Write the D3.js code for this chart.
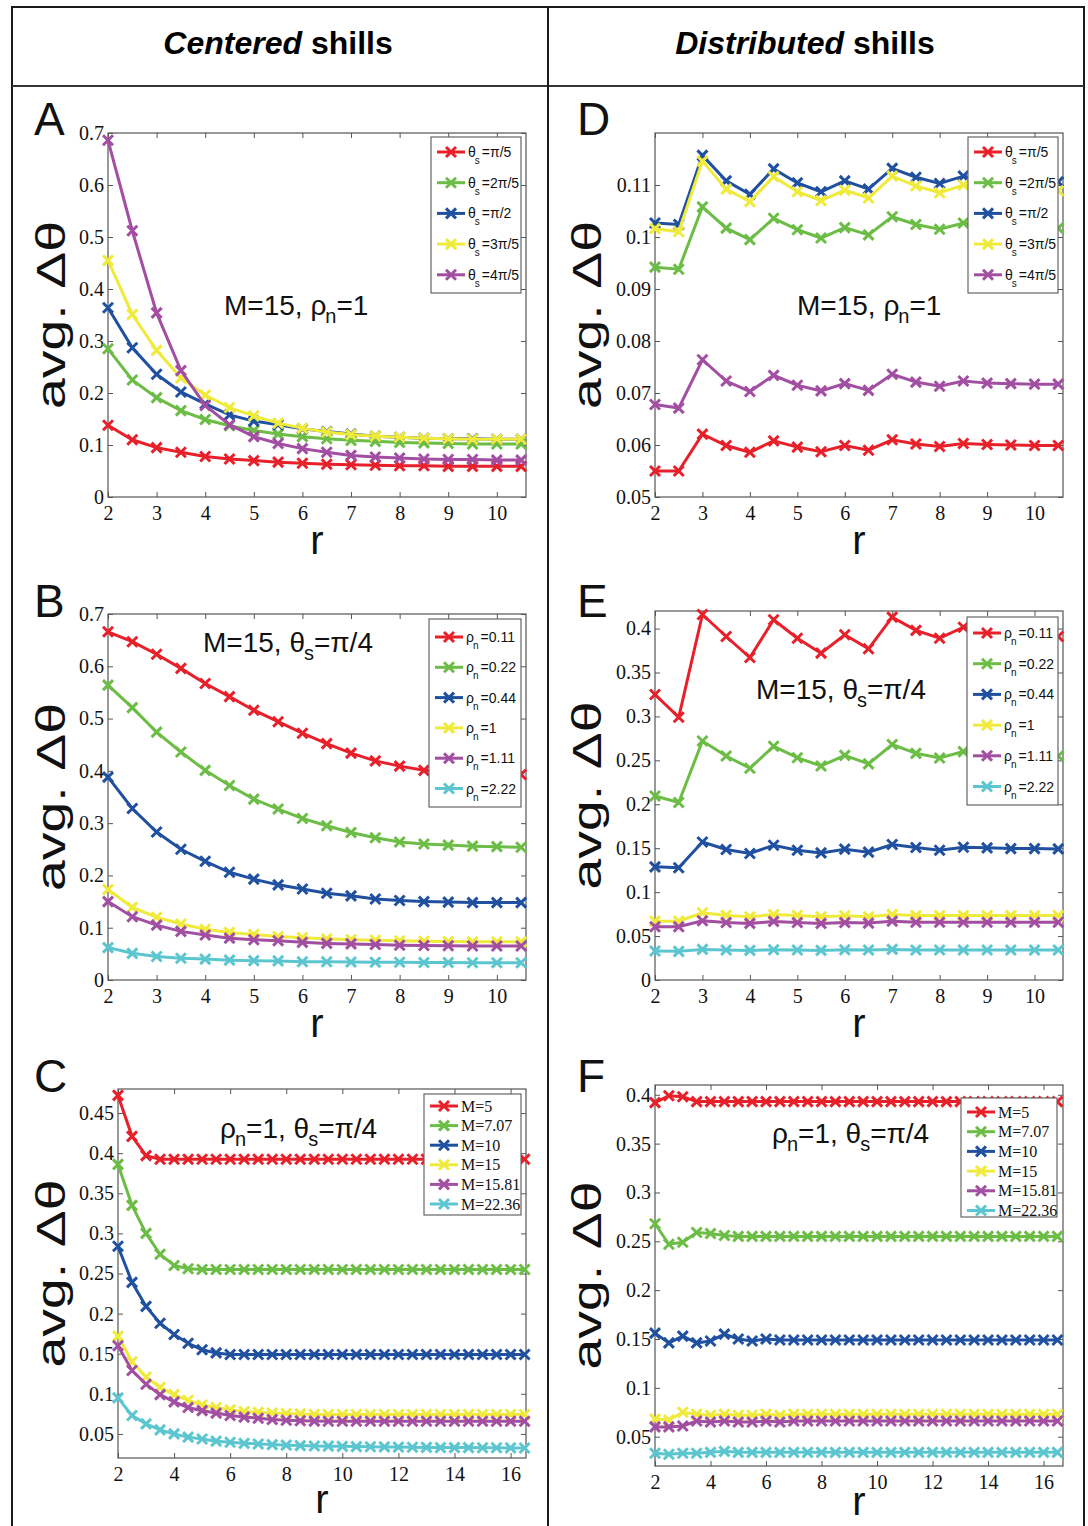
<!DOCTYPE html>
<html><head><meta charset="utf-8">
<script src="https://cdn.jsdelivr.net/npm/d3@7"></script>
<style>body{margin:0;background:#fff}</style>
</head><body>
<svg id="chart" width="1088" height="1526" xmlns="http://www.w3.org/2000/svg"></svg>
<script>
// ---------- DATA ----------
const rShort = [2,2.5,3,3.5,4,4.5,5,5.5,6,6.5,7,7.5,8,8.5,9,9.5,10,10.5];
const rLong = [2,2.5,3,3.5,4,4.5,5,5.5,6,6.5,7,7.5,8,8.5,9,9.5,10,10.5,11,11.5,12,12.5,13,13.5,14,14.5,15,15.5,16,16.5];

const thetaLabels = ["π/5","2π/5","π/2","3π/5","4π/5"];
const rhoLabels = ["0.11","0.22","0.44","1","1.11","2.22"];
const mLabels = ["M=5","M=7.07","M=10","M=15","M=15.81","M=22.36"];

// Panel A (centered, varying theta_s)
const aRed    = [0.138,0.110,0.095,0.086,0.078,0.073,0.070,0.067,0.065,0.063,0.062,0.061,0.060,0.060,0.059,0.059,0.059,0.059];
const aGreen  = [0.285,0.225,0.191,0.166,0.149,0.137,0.128,0.121,0.116,0.112,0.109,0.107,0.105,0.104,0.103,0.102,0.102,0.102];
const aBlue   = [0.364,0.287,0.236,0.202,0.179,0.158,0.146,0.139,0.131,0.126,0.121,0.117,0.115,0.113,0.112,0.112,0.111,0.111];
const aYellow = [0.455,0.351,0.282,0.229,0.196,0.172,0.156,0.142,0.132,0.125,0.120,0.117,0.115,0.113,0.112,0.111,0.111,0.111];
const aPurple = [0.686,0.512,0.354,0.243,0.176,0.139,0.116,0.103,0.093,0.086,0.080,0.077,0.075,0.073,0.072,0.072,0.071,0.071];

// Panel D (distributed, varying theta_s)
const dRed    = [0.0550,0.0550,0.0621,0.0599,0.0586,0.0608,0.0596,0.0587,0.0599,0.0590,0.0610,0.0602,0.0597,0.0603,0.0601,0.0600,0.0599,0.0599];
const dGreen  = [0.0942,0.0938,0.1058,0.1017,0.0995,0.1036,0.1014,0.0998,0.1018,0.1004,0.1039,0.1024,0.1015,0.1027,0.1020,0.1018,0.1017,0.1017];
const dBlue   = [0.1027,0.1024,0.1157,0.1108,0.1082,0.1131,0.1104,0.1087,0.1108,0.1092,0.1132,0.1115,0.1103,0.1117,0.1110,0.1108,0.1107,0.1106];
const dYellow = [0.1016,0.1010,0.1146,0.1092,0.1068,0.1116,0.1087,0.1070,0.1090,0.1075,0.1117,0.1098,0.1085,0.1100,0.1093,0.1091,0.1090,0.1089];
const dPurple = [0.0678,0.0671,0.0764,0.0723,0.0703,0.0734,0.0715,0.0704,0.0718,0.0705,0.0736,0.0721,0.0713,0.0723,0.0719,0.0718,0.0717,0.0717];

// Panel B (centered, varying rho_n)
const bRed    = [0.666,0.647,0.623,0.596,0.567,0.542,0.516,0.494,0.472,0.452,0.434,0.419,0.409,0.401,0.398,0.396,0.395,0.393];
const bGreen  = [0.564,0.521,0.474,0.436,0.401,0.372,0.346,0.327,0.309,0.295,0.282,0.272,0.264,0.260,0.258,0.256,0.255,0.254];
const bBlue   = [0.388,0.328,0.283,0.250,0.227,0.206,0.193,0.182,0.174,0.166,0.161,0.155,0.152,0.150,0.149,0.148,0.148,0.148];
const bYellow = [0.173,0.139,0.120,0.107,0.097,0.091,0.087,0.083,0.081,0.079,0.077,0.076,0.075,0.074,0.0735,0.073,0.073,0.073];
const bPurple = [0.150,0.121,0.105,0.093,0.086,0.080,0.077,0.075,0.072,0.070,0.069,0.068,0.0665,0.066,0.0655,0.065,0.065,0.065];
const bCyan   = [0.062,0.051,0.045,0.0415,0.040,0.038,0.037,0.0365,0.035,0.035,0.0345,0.034,0.034,0.0335,0.0335,0.033,0.033,0.033];

// Panel E (distributed, varying rho_n)
const eRed    = [0.325,0.299,0.416,0.391,0.367,0.410,0.389,0.372,0.393,0.377,0.413,0.398,0.389,0.4015,0.396,0.394,0.393,0.391];
const eGreen  = [0.2095,0.202,0.272,0.255,0.241,0.266,0.253,0.2436,0.2557,0.246,0.268,0.258,0.2527,0.260,0.257,0.256,0.2555,0.255];
const eBlue   = [0.1288,0.1277,0.157,0.1485,0.144,0.1534,0.1477,0.1447,0.1489,0.1455,0.1542,0.1508,0.1477,0.1511,0.1504,0.1496,0.1496,0.1492];
const eYellow = [0.067,0.067,0.0765,0.0735,0.072,0.0746,0.0735,0.072,0.0731,0.072,0.0746,0.0733,0.0733,0.0733,0.0733,0.0733,0.0733,0.0733];
const ePurple = [0.0606,0.0606,0.0674,0.0655,0.0644,0.0667,0.0655,0.0644,0.0655,0.0648,0.067,0.0657,0.0657,0.0657,0.0657,0.0657,0.0657,0.0657];
const eCyan   = [0.033,0.0326,0.0348,0.0341,0.0337,0.0345,0.0341,0.0337,0.0345,0.0341,0.0348,0.0341,0.0341,0.0341,0.0341,0.0341,0.0341,0.0341];

// Panel C (centered, varying M)
const cRed    = [0.472,0.421,0.397,0.3925,0.3925,0.3925,0.3925,0.3925,0.3925,0.3925,0.3925,0.3925,0.3925,0.3925,0.3925,0.3925,0.3925,0.3925,0.3925,0.3925,0.3925,0.3925,0.3925,0.3925,0.3925,0.3925,0.3925,0.3925,0.3925,0.3925];
const cGreen  = [0.386,0.335,0.300,0.274,0.260,0.256,0.255,0.255,0.255,0.255,0.255,0.255,0.255,0.255,0.255,0.255,0.255,0.255,0.255,0.255,0.255,0.255,0.255,0.255,0.255,0.255,0.255,0.255,0.255,0.255];
const cBlue   = [0.284,0.239,0.209,0.188,0.174,0.163,0.155,0.151,0.149,0.149,0.149,0.149,0.149,0.149,0.149,0.149,0.149,0.149,0.149,0.149,0.149,0.149,0.149,0.149,0.149,0.149,0.149,0.149,0.149,0.149];
const cYellow = [0.172,0.140,0.121,0.108,0.099,0.092,0.086,0.083,0.080,0.078,0.077,0.076,0.0755,0.075,0.0742,0.0742,0.0742,0.0742,0.0742,0.0742,0.0742,0.0742,0.0742,0.0742,0.0742,0.0742,0.0742,0.0742,0.0742,0.0742];
const cPurple = [0.160,0.129,0.112,0.099,0.090,0.083,0.079,0.076,0.073,0.071,0.0696,0.068,0.067,0.0665,0.066,0.0658,0.0658,0.0658,0.0658,0.0658,0.0658,0.0658,0.0658,0.0658,0.0658,0.0658,0.0658,0.0658,0.0658,0.0658];
const cCyan   = [0.095,0.073,0.0625,0.055,0.050,0.046,0.0437,0.041,0.0396,0.0383,0.0375,0.0367,0.036,0.0355,0.035,0.0348,0.0345,0.0342,0.034,0.0338,0.0336,0.0334,0.0332,0.033,0.033,0.033,0.0328,0.0327,0.0326,0.0325];

// Panel F (distributed, varying M)
const fRed    = [0.392,0.399,0.398,0.393,0.393,0.393,0.393,0.393,0.393,0.393,0.393,0.393,0.393,0.393,0.393,0.393,0.393,0.393,0.393,0.393,0.393,0.393,0.393,0.393,0.393,0.393,0.393,0.393,0.393,0.393];
const fGreen  = [0.268,0.247,0.249,0.259,0.258,0.256,0.255,0.255,0.255,0.255,0.255,0.255,0.255,0.255,0.255,0.255,0.255,0.255,0.255,0.255,0.255,0.255,0.255,0.255,0.255,0.255,0.255,0.255,0.255,0.255];
const fBlue   = [0.156,0.146,0.153,0.146,0.148,0.155,0.150,0.148,0.150,0.149,0.149,0.149,0.149,0.149,0.149,0.149,0.149,0.149,0.149,0.149,0.149,0.149,0.149,0.149,0.149,0.149,0.149,0.149,0.149,0.149];
const fYellow = [0.068,0.067,0.075,0.073,0.072,0.073,0.072,0.072,0.073,0.072,0.073,0.073,0.073,0.073,0.073,0.073,0.073,0.073,0.073,0.073,0.073,0.073,0.073,0.073,0.073,0.073,0.073,0.073,0.073,0.073];
const fPurple = [0.060,0.060,0.061,0.066,0.065,0.066,0.065,0.065,0.066,0.065,0.066,0.066,0.066,0.066,0.066,0.066,0.066,0.066,0.066,0.066,0.066,0.066,0.066,0.066,0.066,0.066,0.066,0.066,0.066,0.066];
const fCyan   = [0.033,0.032,0.033,0.033,0.034,0.035,0.034,0.034,0.034,0.034,0.034,0.034,0.034,0.034,0.034,0.034,0.034,0.034,0.034,0.034,0.034,0.034,0.034,0.034,0.034,0.034,0.034,0.034,0.034,0.034];

const tickX10 = [2,3,4,5,6,7,8,9,10];
const tickX16 = [2,4,6,8,10,12,14,16];
const tickY07 = [0,0.1,0.2,0.3,0.4,0.5,0.6,0.7];
const tickYD  = [0.05,0.06,0.07,0.08,0.09,0.1,0.11];
const tickYE  = [0,0.05,0.1,0.15,0.2,0.25,0.3,0.35,0.4];
const tickYC  = [0.05,0.1,0.15,0.2,0.25,0.3,0.35,0.4,0.45];
const tickYF  = [0.05,0.1,0.15,0.2,0.25,0.3,0.35,0.4];

// ---------- STYLE ----------
const COLORS = ["#e8202a","#6cbd45","#2050a0","#f0ea3a","#a24ea2","#5cc6d0"];
const SANS = "'Liberation Sans', Arial, sans-serif";
const SERIF = "'Liberation Serif', 'Times New Roman', serif";
const MARK = "M-5,-5L5,5M-5,5L5,-5";

const svg = d3.select("#chart");

svg.append("rect").attr("x",12).attr("y",7).attr("width",1072).attr("height",1540)
  .attr("fill","none").attr("stroke","#1a1a1a").attr("stroke-width",2);
svg.append("line").attr("x1",12).attr("x2",1084).attr("y1",86).attr("y2",86).attr("stroke","#333").attr("stroke-width",2);
svg.append("line").attr("x1",548).attr("x2",548).attr("y1",7).attr("y2",1526).attr("stroke","#1a1a1a").attr("stroke-width",2);

function header(cx, it, rest){
  const t = svg.append("text").attr("x",cx).attr("y",54).attr("text-anchor","middle")
    .attr("font-family",SANS).attr("font-weight","bold").attr("font-size",32);
  t.append("tspan").attr("font-style","italic").text(it);
  t.append("tspan").text(rest);
}
header(278,"Centered"," shills");
header(805,"Distributed"," shills");

const fmt = d => String(+d.toFixed(2));

function drawPanel(p){
  const g = svg.append("g");
  const x = d3.scaleLinear().domain(p.xDomain).range([p.left,p.right]);
  const y = d3.scaleLinear().domain(p.yDomain).range([p.bottom,p.top]);

  const styleAxis = sel => {
    sel.select(".domain").remove();
    sel.selectAll(".tick line").attr("stroke","#555").attr("stroke-width",1);
    sel.selectAll(".tick text").attr("font-family",SERIF).attr("font-size",20).attr("fill","#111");
  };
  g.append("g").attr("transform",`translate(0,${p.bottom})`)
    .call(d3.axisBottom(x).tickValues(p.xTicks).tickSize(-5).tickPadding(9).tickFormat(fmt)).call(styleAxis);
  g.append("g").attr("transform",`translate(0,${p.top})`)
    .call(d3.axisTop(x).tickValues(p.xTicks).tickSize(-5).tickFormat("")).call(styleAxis);
  g.append("g").attr("transform",`translate(${p.left},0)`)
    .call(d3.axisLeft(y).tickValues(p.yTicks).tickSize(-5).tickPadding(4).tickFormat(fmt)).call(styleAxis);
  g.append("g").attr("transform",`translate(${p.right},0)`)
    .call(d3.axisRight(y).tickValues(p.yTicks).tickSize(-5).tickFormat("")).call(styleAxis);
  g.append("rect").attr("x",p.left).attr("y",p.top).attr("width",p.right-p.left).attr("height",p.bottom-p.top)
    .attr("fill","none").attr("stroke","#555").attr("stroke-width",1.2);

  const line = d3.line().x(d=>x(d[0])).y(d=>y(d[1]));
  p.series.forEach((vals,i)=>{
    const pts = vals.map((v,j)=>[p.xs[j],v]);
    g.append("path").attr("d",line(pts)).attr("fill","none").attr("stroke",COLORS[i]).attr("stroke-width",3);
    g.selectAll(null).data(pts).enter().append("path")
      .attr("transform",d=>`translate(${x(d[0])},${y(d[1])})`)
      .attr("d",MARK).attr("stroke",COLORS[i]).attr("stroke-width",3).attr("fill","none");
  });

  const L = p.legend;
  const lg = g.append("g");
  lg.append("rect").attr("x",L.x).attr("y",L.y).attr("width",L.w).attr("height",L.h)
    .attr("fill","#fff").attr("stroke","#666").attr("stroke-width",1.2);
  p.labels.forEach((lab,i)=>{
    const yy = L.row0 + i*L.step;
    lg.append("line").attr("x1",L.x+6).attr("x2",L.x+34).attr("y1",yy).attr("y2",yy)
      .attr("stroke",COLORS[i]).attr("stroke-width",3);
    lg.append("path").attr("transform",`translate(${L.x+20},${yy})`)
      .attr("d",MARK).attr("stroke",COLORS[i]).attr("stroke-width",3);
    if(p.labelKind==="M"){
      lg.append("text").attr("x",L.x+37).attr("y",yy+5.5).attr("font-family",SERIF).attr("font-size",16)
        .attr("fill","#111").text(lab);
    } else {
      const t = lg.append("text").attr("x",L.x+37).attr("y",yy+5).attr("font-family",SANS).attr("font-size",14).attr("fill","#111");
      t.append("tspan").text(p.labelKind==="theta" ? "θ" : "ρ");
      t.append("tspan").attr("font-size",10).attr("dx",-1).attr("dy",7).text(p.labelKind==="theta" ? "s" : "n");
      t.append("tspan").attr("dx",2).attr("dy",-7).text("=" + lab);
    }
  });

  const A = p.note;
  const t = g.append("text").attr("x",A.x).attr("y",A.y).attr("font-family",SANS).attr("font-size",28).attr("fill","#111");
  A.parts.forEach(pt=>{
    const ts = t.append("tspan").text(pt.t);
    if(pt.sub){ ts.attr("font-size",20).attr("dy",8).attr("dx",pt.dx||0); }
    else if(pt.up){ ts.attr("dy",-8).attr("dx",pt.dx||0); }
  });

  g.append("text").attr("x",p.letterX).attr("y",p.top+(p.letterDy||0)).attr("font-family",SANS).attr("font-size",46)
    .attr("fill","#111").text(p.letter);

  g.append("text").attr("x",(p.left+p.right)/2).attr("y",p.bottom+(p.rDy||57)).attr("text-anchor","middle")
    .attr("font-family",SANS).attr("font-size",40).attr("fill","#111").text("r");
  g.append("text").attr("transform",`translate(${p.ylabX},${(p.top+p.bottom)/2}) rotate(-90)`)
    .attr("text-anchor","middle").attr("font-family",SANS).attr("font-size",41).attr("fill","#111")
    .attr("textLength",188).attr("lengthAdjust","spacingAndGlyphs").text("avg. Δθ");
}

const noteM15rho = [{t:"M=15, ρ"},{t:"n",sub:true,dx:-1},{t:"=1",up:true,dx:0}];
const noteM15th = [{t:"M=15, θ"},{t:"s",sub:true,dx:-1},{t:"=π/4",up:true,dx:0}];
const noteRhoTh = [{t:"ρ"},{t:"n",sub:true,dx:-1},{t:"=1, θ",up:true,dx:0},{t:"s",sub:true,dx:-1},{t:"=π/4",up:true,dx:0}];

drawPanel({letter:"A",letterX:34,letterDy:2,left:108,right:526,top:133,bottom:497,xDomain:[2,10.6],yDomain:[0,0.7],
  xTicks:tickX10,yTicks:tickY07,xs:rShort,series:[aRed,aGreen,aBlue,aYellow,aPurple],
  labels:thetaLabels,labelKind:"theta",legend:{x:431,y:137,w:90,h:156,row0:152,step:30.7},
  note:{x:224,y:315,parts:noteM15rho},ylabX:65});
drawPanel({letter:"D",letterX:577,letterDy:2,left:655,right:1063,top:133,bottom:497,xDomain:[2,10.6],yDomain:[0.05,0.12],
  xTicks:tickX10,yTicks:tickYD,xs:rShort,series:[dRed,dGreen,dBlue,dYellow,dPurple],
  labels:thetaLabels,labelKind:"theta",legend:{x:968,y:137,w:90,h:156,row0:152,step:30.7},
  note:{x:797,y:315,parts:noteM15rho},ylabX:601});
drawPanel({letter:"B",letterX:34,letterDy:3,left:108,right:526,top:614,bottom:980,xDomain:[2,10.6],yDomain:[0,0.7],
  xTicks:tickX10,yTicks:tickY07,xs:rShort,series:[bRed,bGreen,bBlue,bYellow,bPurple,bCyan],
  labels:rhoLabels,labelKind:"rho",legend:{x:429,y:619,w:92,h:188,row0:637,step:30.3},
  note:{x:203,y:652,parts:noteM15th},ylabX:65});
drawPanel({letter:"E",letterX:577,letterDy:6,left:655,right:1063,top:611,bottom:980,xDomain:[2,10.6],yDomain:[0,0.42],
  xTicks:tickX10,yTicks:tickYE,xs:rShort,series:[eRed,eGreen,eBlue,eYellow,ePurple,eCyan],
  labels:rhoLabels,labelKind:"rho",legend:{x:967,y:617,w:91,h:188,row0:633,step:30.7},
  note:{x:756,y:699,parts:noteM15th},ylabX:601});
drawPanel({letter:"C",letterX:34,letterDy:3,left:118,right:526,top:1089,bottom:1458,xDomain:[2,16.55],yDomain:[0.02,0.48],
  xTicks:tickX16,yTicks:tickYC,xs:rLong,series:[cRed,cGreen,cBlue,cYellow,cPurple,cCyan],
  labels:mLabels,labelKind:"M",legend:{x:424,y:1094,w:97,h:121,row0:1106,step:19.6},
  note:{x:220,y:1138,parts:noteRhoTh},ylabX:65,rDy:55});
drawPanel({letter:"F",letterX:577,letterDy:7,left:655,right:1063,top:1085,bottom:1466,xDomain:[2,16.7],yDomain:[0.02,0.41],
  xTicks:tickX16,yTicks:tickYF,xs:rLong,series:[fRed,fGreen,fBlue,fYellow,fPurple,fCyan],
  labels:mLabels,labelKind:"M",legend:{x:961,y:1098,w:96,h:119,row0:1112,step:19.7},
  note:{x:772,y:1143,parts:noteRhoTh},ylabX:601,rDy:49});
</script>
</body></html>
